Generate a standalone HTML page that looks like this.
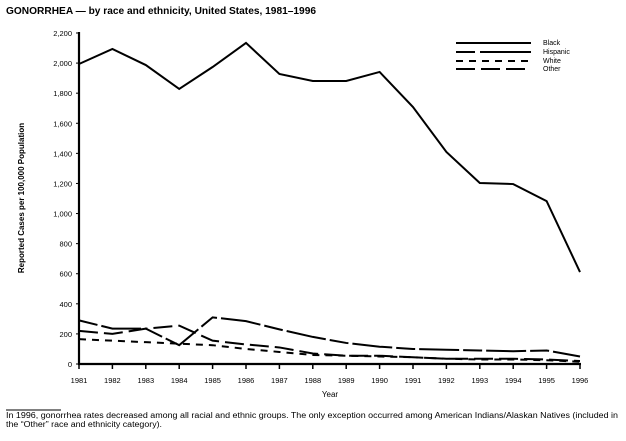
<!DOCTYPE html>
<html><head><style>body{margin:0;background:#fff}</style></head><body>
<svg width="626" height="436" xmlns="http://www.w3.org/2000/svg" font-family="Liberation Sans, sans-serif">
<text x="6" y="14" font-size="10.5" font-weight="bold" textLength="310" lengthAdjust="spacingAndGlyphs">GONORRHEA — by race and ethnicity, United States, 1981–1996</text>
<g stroke="#000" stroke-width="2.2" fill="none">
<line x1="79" y1="32" x2="79" y2="365"/>
<line x1="78" y1="364" x2="581" y2="364"/>
</g>
<g font-size="7.5" text-anchor="end" id="yl"></g>
<g font-size="7.5" text-anchor="middle" id="xl"></g>
<text x="24" y="198" font-size="8" font-weight="bold" text-anchor="middle" transform="rotate(-90 24 198)">Reported Cases per 100,000 Population</text>
<text x="330" y="397" font-size="8" text-anchor="middle">Year</text>
<g stroke="#000" stroke-width="2" fill="none" id="series"></g>
<g stroke="#000" stroke-width="2">
<line x1="456" y1="43" x2="531" y2="43"/>
<line x1="456" y1="52" x2="475" y2="52" /><line x1="480" y1="52" x2="531" y2="52"/>
<line x1="456" y1="61" x2="531" y2="61" stroke-dasharray="7,6"/>
<line x1="456" y1="69" x2="531" y2="69" stroke-dasharray="19,6"/>
</g>
<g font-size="7">
<text x="543" y="45">Black</text><text x="543" y="54">Hispanic</text><text x="543" y="63">White</text><text x="543" y="71">Other</text>
</g>
<line x1="6" y1="410" x2="61" y2="410" stroke="#000" stroke-width="1"/>
<text x="6" y="418" font-size="8" textLength="612" lengthAdjust="spacingAndGlyphs">In 1996, gonorrhea rates decreased among all racial and ethnic groups. The only exception occurred among American Indians/Alaskan Natives (included in</text>
<text x="6" y="427" font-size="8" textLength="156" lengthAdjust="spacingAndGlyphs">the “Other” race and ethnicity category).</text>
</svg>
<script>
const ns="http://www.w3.org/2000/svg";
const X=i=>79+i*(501/15), Y=v=>364-v*331/2200;
const yl=document.getElementById('yl'),xl=document.getElementById('xl'),s=document.getElementById('series');
for(let v=0;v<=2200;v+=200){const t=document.createElementNS(ns,'text');t.setAttribute('x',72);t.setAttribute('y',Y(v)+3);t.textContent=v.toLocaleString('en-US');yl.appendChild(t);
const l=document.createElementNS(ns,'line');l.setAttribute('x1',76);l.setAttribute('x2',79);l.setAttribute('y1',Y(v));l.setAttribute('y2',Y(v));l.setAttribute('stroke','#000');yl.appendChild(l);}
for(let i=0;i<16;i++){const t=document.createElementNS(ns,'text');t.setAttribute('x',X(i));t.setAttribute('y',383);t.textContent=1981+i;xl.appendChild(t);
const l=document.createElementNS(ns,'line');l.setAttribute('x1',X(i));l.setAttribute('x2',X(i));l.setAttribute('y1',364);l.setAttribute('y2',369);l.setAttribute('stroke','#000');l.setAttribute('stroke-width','1.5');xl.appendChild(l);}
const data=[
[[1994,2094,1987,1828,1974,2134,1928,1881,1881,1941,1708,1409,1203,1196,1083,611],''],
[[290,235,235,125,310,285,230,180,140,115,100,95,90,85,90,50],'19,4,40,4'],
[[165,155,145,135,125,100,80,60,55,50,45,35,30,30,25,15],'7,6'],
[[220,200,235,255,155,130,110,70,55,55,45,35,35,35,30,20],'19,6']];
for(const [d,da] of data){const p=document.createElementNS(ns,'polyline');p.setAttribute('points',d.map((v,i)=>X(i)+','+Y(v)).join(' '));if(da)p.setAttribute('stroke-dasharray',da);s.appendChild(p);}
</script>
</body></html>
